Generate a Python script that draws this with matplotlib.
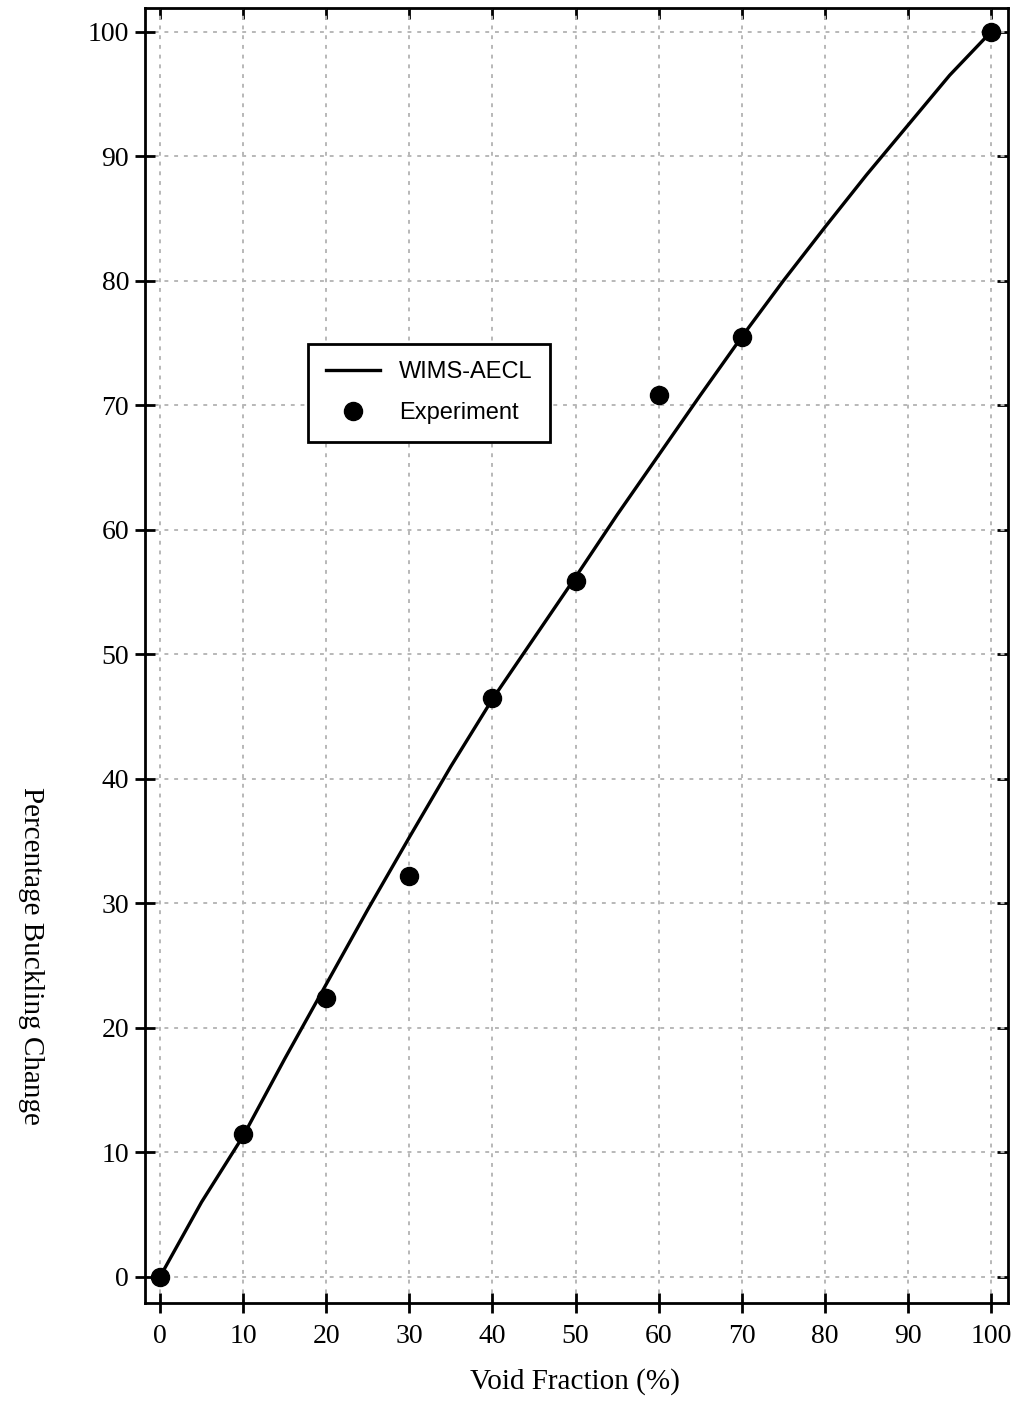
import matplotlib.pyplot as plt

# WIMS-AECL calculation
calc_x = [0, 5, 10, 15, 20, 25, 30, 35, 40, 45, 50, 55, 60, 65, 70, 75, 80, 85, 90, 95, 100]
calc_y = [0, 6.0, 11.3, 17.5, 23.5, 29.5, 35.3, 41.0, 46.4, 51.3, 56.2, 61.2, 66.0, 70.8, 75.5, 80.0, 84.3, 88.5, 92.5, 96.5, 100]

# experimental points
exp_x = [0, 10, 20, 30, 40, 50, 60, 70, 100]
exp_y = [0, 11.5, 22.4, 32.2, 46.5, 55.9, 70.8, 75.5, 100]

xticks = list(range(0, 101, 10))
yticks = list(range(0, 101, 10))

plt.rcParams["font.family"] = ["Liberation Serif", "DejaVu Serif"]

fig = plt.figure(figsize=(10.17, 14.03), dpi=100)
ax = fig.add_axes([0.1426, 0.0713, 0.8484, 0.923])

ax.plot(calc_x, calc_y, color="black", lw=2.4, label="WIMS-AECL", zorder=3)
ax.plot(exp_x, exp_y, "o", color="black", ms=13, label="Experiment", zorder=4)

ax.set_xlim(-1.8, 102.0)
ax.set_ylim(-2.1, 101.9)
ax.set_xticks(xticks)
ax.set_yticks(yticks)
ax.grid(True, color="#b8b8b8", linestyle=(0, (2, 3)), lw=1.4, zorder=1)

ax.tick_params(axis="x", direction="inout", length=15, width=2, labelsize=20, pad=8)
ax.tick_params(axis="y", direction="inout", length=15, width=2, labelsize=20, pad=4)
for s in ax.spines.values():
    s.set_linewidth(2)

# inward ticks on the top and right edges
top = ax.secondary_xaxis("top")
top.set_xticks(xticks)
top.tick_params(direction="in", length=8, width=2, labeltop=False)
right = ax.secondary_yaxis("right")
right.set_yticks(yticks)
right.tick_params(direction="in", length=8, width=2, labelright=False)

fig.text(0.565, 0.015, "Void Fraction (%)", ha="center", va="center", fontsize=21)
fig.text(0.03, 0.319, "Percentage Buckling Change", rotation=270,
         ha="center", va="center", fontsize=21)

leg = ax.legend(loc="upper left", bbox_to_anchor=(0.175, 0.750), frameon=True,
                fancybox=False, edgecolor="black", framealpha=1,
                prop={"family": "Liberation Sans", "size": 17},
                handlelength=2.3, borderpad=0.75, labelspacing=0.8)
leg.get_frame().set_linewidth(2)

fig.savefig("out.png", dpi=100)
